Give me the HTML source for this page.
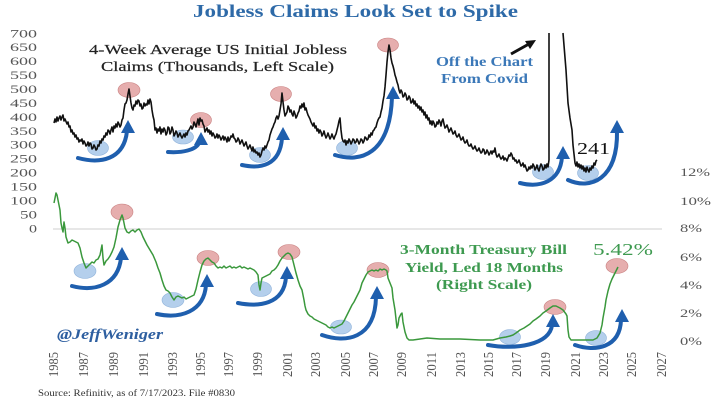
<!DOCTYPE html>
<html><head><meta charset="utf-8"><style>
html,body{margin:0;padding:0;background:#fff;}
svg{display:block;}
text{font-family:"Liberation Serif",serif;}
</style></head><body>
<svg width="718" height="404" viewBox="0 0 718 404" xmlns="http://www.w3.org/2000/svg">
<rect width="718" height="404" fill="#fff"/>
<!-- Title -->
<text x="193" y="17" font-size="18" font-weight="bold" fill="#2e6aa8" textLength="325" lengthAdjust="spacingAndGlyphs">Jobless Claims Look Set to Spike</text>

<!-- left ticks -->
<g font-size="12" fill="#555" text-anchor="end">
<text x="37" y="37.3" textLength="27" lengthAdjust="spacingAndGlyphs">700</text>
<text x="37" y="51.2" textLength="27" lengthAdjust="spacingAndGlyphs">650</text>
<text x="37" y="65.2" textLength="27" lengthAdjust="spacingAndGlyphs">600</text>
<text x="37" y="79.1" textLength="27" lengthAdjust="spacingAndGlyphs">550</text>
<text x="37" y="93.0" textLength="27" lengthAdjust="spacingAndGlyphs">500</text>
<text x="37" y="106.9" textLength="27" lengthAdjust="spacingAndGlyphs">450</text>
<text x="37" y="120.9" textLength="27" lengthAdjust="spacingAndGlyphs">400</text>
<text x="37" y="134.8" textLength="27" lengthAdjust="spacingAndGlyphs">350</text>
<text x="37" y="148.7" textLength="27" lengthAdjust="spacingAndGlyphs">300</text>
<text x="37" y="162.7" textLength="27" lengthAdjust="spacingAndGlyphs">250</text>
<text x="37" y="176.6" textLength="27" lengthAdjust="spacingAndGlyphs">200</text>
<text x="37" y="190.5" textLength="27" lengthAdjust="spacingAndGlyphs">150</text>
<text x="37" y="204.4" textLength="27" lengthAdjust="spacingAndGlyphs">100</text>
<text x="37" y="218.4" textLength="17" lengthAdjust="spacingAndGlyphs">50</text>
<text x="37" y="232.3" textLength="8" lengthAdjust="spacingAndGlyphs">0</text>
</g>

<!-- right ticks -->
<g font-size="12" fill="#555">
<text x="680" y="176" textLength="30" lengthAdjust="spacingAndGlyphs">12%</text>
<text x="680" y="205" textLength="31" lengthAdjust="spacingAndGlyphs">10%</text>
<text x="680" y="232" textLength="22" lengthAdjust="spacingAndGlyphs">8%</text>
<text x="680" y="261" textLength="22" lengthAdjust="spacingAndGlyphs">6%</text>
<text x="680" y="289" textLength="22" lengthAdjust="spacingAndGlyphs">4%</text>
<text x="680" y="317" textLength="22" lengthAdjust="spacingAndGlyphs">2%</text>
<text x="680" y="345" textLength="22" lengthAdjust="spacingAndGlyphs">0%</text>
</g>

<!-- zero gridline -->
<line x1="53" y1="229" x2="662" y2="229" stroke="#cfcfcf" stroke-width="1"/>

<!-- x labels -->
<g font-size="11" fill="#555">
<text transform="translate(58,377) rotate(-90) scale(1,1.25)" textLength="25" lengthAdjust="spacingAndGlyphs">1985</text>
<text transform="translate(88,377) rotate(-90) scale(1,1.25)" textLength="25" lengthAdjust="spacingAndGlyphs">1987</text>
<text transform="translate(118,377) rotate(-90) scale(1,1.25)" textLength="25" lengthAdjust="spacingAndGlyphs">1989</text>
<text transform="translate(148,377) rotate(-90) scale(1,1.25)" textLength="25" lengthAdjust="spacingAndGlyphs">1991</text>
<text transform="translate(177,377) rotate(-90) scale(1,1.25)" textLength="25" lengthAdjust="spacingAndGlyphs">1993</text>
<text transform="translate(205,377) rotate(-90) scale(1,1.25)" textLength="25" lengthAdjust="spacingAndGlyphs">1995</text>
<text transform="translate(233,377) rotate(-90) scale(1,1.25)" textLength="25" lengthAdjust="spacingAndGlyphs">1997</text>
<text transform="translate(262,377) rotate(-90) scale(1,1.25)" textLength="25" lengthAdjust="spacingAndGlyphs">1999</text>
<text transform="translate(292,377) rotate(-90) scale(1,1.25)" textLength="25" lengthAdjust="spacingAndGlyphs">2001</text>
<text transform="translate(320,377) rotate(-90) scale(1,1.25)" textLength="25" lengthAdjust="spacingAndGlyphs">2003</text>
<text transform="translate(350,377) rotate(-90) scale(1,1.25)" textLength="25" lengthAdjust="spacingAndGlyphs">2005</text>
<text transform="translate(378,377) rotate(-90) scale(1,1.25)" textLength="25" lengthAdjust="spacingAndGlyphs">2007</text>
<text transform="translate(406,377) rotate(-90) scale(1,1.25)" textLength="25" lengthAdjust="spacingAndGlyphs">2009</text>
<text transform="translate(436,377) rotate(-90) scale(1,1.25)" textLength="25" lengthAdjust="spacingAndGlyphs">2011</text>
<text transform="translate(465,377) rotate(-90) scale(1,1.25)" textLength="25" lengthAdjust="spacingAndGlyphs">2013</text>
<text transform="translate(493,377) rotate(-90) scale(1,1.25)" textLength="25" lengthAdjust="spacingAndGlyphs">2015</text>
<text transform="translate(521,377) rotate(-90) scale(1,1.25)" textLength="25" lengthAdjust="spacingAndGlyphs">2017</text>
<text transform="translate(550,377) rotate(-90) scale(1,1.25)" textLength="25" lengthAdjust="spacingAndGlyphs">2019</text>
<text transform="translate(580,377) rotate(-90) scale(1,1.25)" textLength="25" lengthAdjust="spacingAndGlyphs">2021</text>
<text transform="translate(608,377) rotate(-90) scale(1,1.25)" textLength="25" lengthAdjust="spacingAndGlyphs">2023</text>
<text transform="translate(636,377) rotate(-90) scale(1,1.25)" textLength="25" lengthAdjust="spacingAndGlyphs">2025</text>
<text transform="translate(666,377) rotate(-90) scale(1,1.25)" textLength="25" lengthAdjust="spacingAndGlyphs">2027</text>
</g>

<!-- annotations text -->
<text x="89" y="54" font-size="14" fill="#222" stroke="#222" stroke-width="0.2" textLength="258" lengthAdjust="spacingAndGlyphs">4-Week Average US Initial Jobless</text>
<text x="101" y="71" font-size="14" fill="#222" stroke="#222" stroke-width="0.2" textLength="233" lengthAdjust="spacingAndGlyphs">Claims (Thousands, Left Scale)</text>
<text x="436" y="66" font-size="13.5" font-weight="bold" fill="#3b78b8" textLength="97" lengthAdjust="spacingAndGlyphs">Off the Chart</text>
<text x="441" y="83" font-size="13.5" font-weight="bold" fill="#3b78b8" textLength="87" lengthAdjust="spacingAndGlyphs">From Covid</text>
<text x="577" y="154" font-size="17" fill="#111" textLength="33" lengthAdjust="spacingAndGlyphs">241</text>
<text x="400" y="254" font-size="14" font-weight="bold" fill="#3e9a50" textLength="167" lengthAdjust="spacingAndGlyphs">3-Month Treasury Bill</text>
<text x="405" y="272" font-size="14" font-weight="bold" fill="#3e9a50" textLength="158" lengthAdjust="spacingAndGlyphs">Yield, Led 18 Months</text>
<text x="436" y="289" font-size="14" font-weight="bold" fill="#3e9a50" textLength="96" lengthAdjust="spacingAndGlyphs">(Right Scale)</text>
<text x="593" y="255" font-size="17" fill="#3e9a50" textLength="60" lengthAdjust="spacingAndGlyphs">5.42%</text>
<text x="57" y="339" font-size="15" font-weight="bold" font-style="italic" fill="#2e5fa0" textLength="106" lengthAdjust="spacingAndGlyphs">@JeffWeniger</text>
<text x="38" y="396" font-size="9.5" fill="#333" textLength="197" lengthAdjust="spacingAndGlyphs">Source: Refinitiv, as of 7/17/2023. File #0830</text>

<!-- black arrow -->
<line x1="511" y1="54" x2="528" y2="44.5" stroke="#111" stroke-width="3"/>
<polygon points="536,40 525,41 530,49" fill="#111"/>

<!-- red circles (behind lines) -->
<g fill="#dc8c8c" fill-opacity="0.7" stroke="#c98080" stroke-width="0.6">
<ellipse cx="129" cy="90" rx="11" ry="7.5"/>
<ellipse cx="201" cy="120" rx="10.5" ry="7.5"/>
<ellipse cx="281" cy="94" rx="10.5" ry="7.5"/>
<ellipse cx="388" cy="45" rx="10.5" ry="7"/>
<ellipse cx="122" cy="212" rx="11" ry="8"/>
<ellipse cx="208" cy="258" rx="11" ry="7.5"/>
<ellipse cx="289" cy="252" rx="11" ry="7.5"/>
<ellipse cx="378" cy="270" rx="11" ry="7.5"/>
<ellipse cx="555" cy="307" rx="11" ry="7.5"/>
<ellipse cx="617" cy="266" rx="11" ry="7.5"/>
</g>
<!-- blue circles -->
<g fill="#9bbfe6" fill-opacity="0.75" stroke="#8fb2da" stroke-width="0.6">
<ellipse cx="98" cy="148" rx="10.5" ry="7.5"/>
<ellipse cx="183" cy="137" rx="10.5" ry="7"/>
<ellipse cx="260" cy="155" rx="10.5" ry="7.5"/>
<ellipse cx="347" cy="148" rx="10.5" ry="7.5"/>
<ellipse cx="543" cy="172" rx="10.5" ry="7.5"/>
<ellipse cx="588" cy="173" rx="10.5" ry="7.5"/>
<ellipse cx="85" cy="271" rx="11" ry="7.5"/>
<ellipse cx="173" cy="300" rx="11" ry="7.5"/>
<ellipse cx="261" cy="289" rx="10.5" ry="7.5"/>
<ellipse cx="341" cy="327" rx="10.5" ry="7"/>
<ellipse cx="510" cy="337" rx="10.5" ry="7.5"/>
<ellipse cx="596" cy="338" rx="10.5" ry="7.5"/>
</g>

<!-- claims series -->
<polyline fill="none" stroke="#111" stroke-width="1.6" stroke-linejoin="round" points="54,123 55,119 56,122 57,117 58,121 59,118 60,116 61,120 62,117 63,115 64,121 65,119 67,124 68,122 69,127 70,126 71,132 72,130 73,134 74,133 75,137 76,135 77,139 78,138 79,142 80,140 81,141 82,139 83,144 84,141 85,143 86,146 87,145 88,142 89,146 90,143 91,144 92,149 93,148 94,145 95,147 96,150 97,149 98,145 99,146 100,141 101,143 102,139 103,140 104,136 105,137 106,133 107,135 108,130 109,131 110,134 111,130 112,127 113,132 114,126 115,128 116,124 117,127 118,122 119,124 120,127 121,125 122,120 123,118 124,110 125,104 126,103 127,100 128,94 129,89 130,96 131,103 132,108 133,110 134,105 135,106 136,101 137,104 138,100 139,101 140,106 141,104 142,109 143,108 144,103 145,106 146,104 147,105 148,100 149,104 150,99 151,102 152,110 153,116 154,120 155,130 156,128 157,133 158,129 159,131 160,127 161,134 162,129 163,132 164,128 165,130 166,135 167,133 168,127 169,128 170,134 171,132 172,127 173,130 174,136 175,134 176,131 177,133 178,137 179,135 180,133 181,136 182,138 183,136 184,134 185,137 186,133 187,135 188,131 189,130 190,128 191,126 192,129 193,127 194,122 195,124 196,127 197,123 198,119 199,125 200,118 201,121 202,120 203,124 204,126 205,132 206,130 207,128 208,132 209,130 210,134 211,131 212,136 213,133 214,135 215,138 216,137 217,134 218,138 219,135 220,137 221,140 222,138 223,136 224,140 225,137 226,139 227,142 228,137 229,141 230,139 231,136 232,137 233,134 234,138 235,139 236,142 237,141 238,138 239,140 240,144 241,142 242,140 243,143 244,146 245,144 246,142 247,146 248,149 249,147 250,145 251,148 252,151 253,147 254,152 255,150 256,153 257,152 258,155 259,153 260,157 261,155 262,151 263,148 264,150 265,146 266,148 267,145 268,142 269,140 270,135 271,132 272,129 273,127 274,124 275,122 276,118 277,116 278,119 279,116 280,110 281,104 282,93 283,102 284,110 285,116 286,114 287,112 288,106 289,108 290,112 291,110 292,114 293,116 294,111 295,114 296,118 297,116 298,113 299,111 300,106 301,108 302,104 303,107 304,103 305,110 306,108 307,112 308,115 309,117 310,119 311,122 312,124 313,126 314,123 315,128 316,126 317,131 318,129 319,133 320,130 321,132 322,136 323,134 324,131 325,135 326,138 327,136 328,133 329,136 330,139 331,137 332,134 333,137 334,139 335,136 336,134 337,130 338,126 339,121 340,118 341,130 342,138 343,141 344,142 345,140 346,145 347,141 348,143 349,139 350,141 351,144 352,142 353,139 354,140 355,143 356,142 357,139 358,141 359,144 360,142 361,139 362,140 363,143 364,141 365,137 366,138 367,140 368,139 369,135 370,137 371,133 372,135 373,131 374,130 375,128 376,127 377,123 378,120 379,118 380,117 381,112 382,108 383,101 384,96 385,87 386,75 387,62 388,52 389,45 390,50 391,58 392,63 393,66 394,70 395,75 396,78 397,82 398,85 399,90 400,93 401,90 402,92 403,97 404,96 405,93 406,95 407,100 408,99 409,96 410,98 411,103 412,102 413,99 414,104 415,101 416,106 417,104 418,108 419,106 420,110 421,107 422,112 423,110 424,115 425,112 426,118 427,115 428,120 429,118 430,124 431,121 432,125 433,121 434,123 435,127 436,126 437,122 438,124 439,120 440,122 441,126 442,121 443,119 444,124 445,128 446,127 447,125 448,128 449,132 450,130 451,128 452,131 453,134 454,133 455,131 456,135 457,137 458,136 459,134 460,137 461,140 462,139 463,137 464,141 465,143 466,142 467,140 468,144 469,146 470,146 471,144 472,147 473,149 474,148 475,146 476,149 477,151 478,150 479,148 480,151 481,153 482,152 483,149 484,150 485,154 486,153 487,150 488,152 489,155 490,153 491,151 492,154 493,151 494,152 495,148 496,154 497,157 498,156 499,154 500,157 501,159 502,158 503,156 504,160 505,158 506,159 507,161 508,158 509,155 510,156 511,153 512,155 513,159 514,158 515,161 516,160 517,163 518,162 519,160 520,163 521,166 522,165 523,163 524,167 525,165 526,168 527,171 528,170 529,167 530,169 531,166 532,168 533,164 534,166 535,170 536,168 537,165 538,169 539,171 540,167 541,164 542,166 543,170 544,169 545,165 546,168 547,164 548,167 549,160 549,33"/>
<polyline fill="none" stroke="#111" stroke-width="1.6" stroke-linejoin="round" points="563,33 566,70 568,103 570,118 572,130 573,145 575,163 576,166 577,162 578,167 579,164 580,168 581,165 582,169 583,166 584,171 585,168 586,172 587,167 588,170 589,172 590,168 591,170 592,166 593,168 594,163 595,165 596,161 597,160"/>

<!-- treasury series -->
<polyline fill="none" stroke="#3a983c" stroke-width="1.5" stroke-linejoin="round" points="54,203 55,198 56,193 57,195 58,200 60,210 61,223 62,228 63,232 64,222 65,228 66,237 68,243 70,242 72,240 74,241 76,242 78,243 80,248 82,257 84,263 86,268 88,266 90,264 92,262 94,263 96,260 98,259 100,255 101,250 102,245 103,258 104,265 106,261 108,259 110,256 112,252 114,247 116,238 118,227 120,220 122,215 123,218 125,228 127,232 129,233 131,231 133,230 135,232 137,230 139,229 141,232 143,237 145,241 147,245 150,250 153,255 156,262 158,268 160,273 162,280 164,286 166,290 168,291 170,293 172,297 174,300 176,297 178,296 180,297 182,298 184,297 186,299 188,298 190,297 192,296 194,295 196,289 198,280 200,272 202,265 204,261 206,259 208,258 210,260 212,262 214,263 216,266 218,268 220,267 222,268 224,266 226,268 228,267 230,266 232,268 234,267 236,268 238,267 240,266 242,268 244,267 246,268 248,269 250,268 252,269 254,270 256,272 258,275 259,285 260,290 261,283 262,278 264,277 266,276 268,275 270,274 272,271 274,270 276,268 278,265 280,261 282,258 284,256 286,254 288,253 290,254 292,257 294,265 296,273 298,280 300,286 302,290 304,300 305,306 306,310 308,314 310,316 312,317 314,319 316,320 318,321 320,322 322,323 324,324 326,325 328,327 330,328 332,327 334,328 336,327 338,326 340,325 342,324 344,321 346,317 348,313 350,309 352,305 354,302 356,298 358,294 360,290 362,283 364,279 366,275 368,272 370,271 372,270 374,271 376,270 378,271 380,269 382,270 384,269 386,270 387,271 388,278 390,283 392,288 393,298 395,310 397,328 398,325 399,318 400,316 401,314 402,313 403,322 405,332 407,338 409,340 413,340 420,339 427,338 440,339 460,339 480,340 493,340 500,338 506,337 510,336 513,335 516,333 520,330 524,328 527,326 530,324 533,321 536,319 540,316 543,313 546,311 550,308 553,306 556,306 560,308 563,310 566,314 567,316 568,330 569,337 571,340 575,340 585,340 593,340 597,338 600,333 602,325 603,318 605,307 606,300 608,291 610,284 612,279 614,275 616,271 618,267"/>

<!-- blue curved arrows -->
<g fill="none" stroke="#1f5fae" stroke-width="4" stroke-linecap="round">
<path d="M78,158 C100,164 124,160 127,131"/>
<path d="M168,152 C182,153 196,150 199,143"/>
<path d="M242,165 C260,169 280,166 282,138"/>
<path d="M335,155 C360,163 390,155 392,97"/>
<path d="M520,183 C540,188 560,182 562,157"/>
<path d="M568,180 C590,190 618,180 617,131"/>
<path d="M72,286 C95,292 118,285 121,258"/>
<path d="M157,314 C180,319 204,312 206,285"/>
<path d="M238,303 C258,307 284,305 286,277"/>
<path d="M322,335 C345,343 375,340 376,297"/>
<path d="M488,345 C515,350 550,345 552,325"/>
<path d="M575,345 C595,352 620,348 621,320"/>
</g>
<g fill="#1f5fae">
<polygon points="128,120 121,133 135,133"/>
<polygon points="201,132 194,145 208,145"/>
<polygon points="283,127 276,140 290,140"/>
<polygon points="393,86 386,99 400,99"/>
<polygon points="563,146 556,159 570,159"/>
<polygon points="617,120 610,133 624,133"/>
<polygon points="122,247 115,260 129,260"/>
<polygon points="207,274 200,287 214,287"/>
<polygon points="287,266 280,279 294,279"/>
<polygon points="377,286 370,299 384,299"/>
<polygon points="553,314 546,327 560,327"/>
<polygon points="622,309 615,322 629,322"/>
</g>
</svg>
</body></html>
